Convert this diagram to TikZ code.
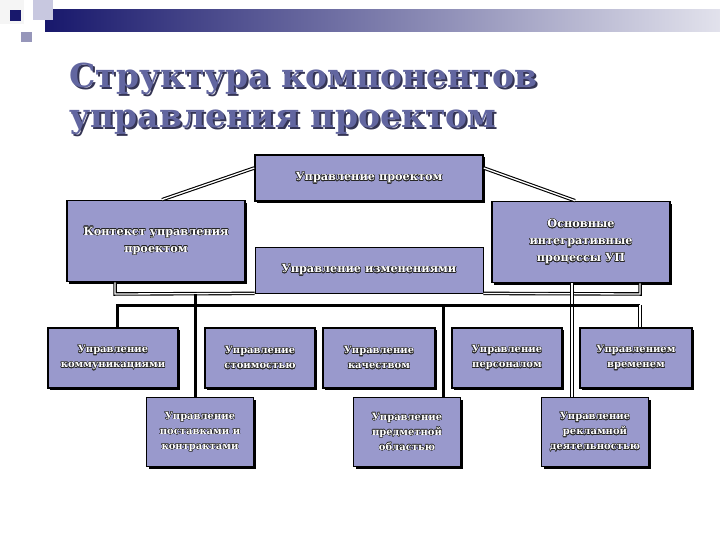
\documentclass[tikz,border=0pt]{standalone}
\usepackage{fontspec}
\setmainfont{DejaVu Serif}
\usepackage{contour}
\contourlength{0.4pt}
\usetikzlibrary{positioning, shadows}

\definecolor{boxfill}{RGB}{153,153,204}
\definecolor{navy}{RGB}{24,24,108}
\definecolor{barend}{RGB}{226,226,236}
\definecolor{titleblue}{RGB}{98,102,160}
\definecolor{titleshade}{RGB}{52,52,84}
\definecolor{sqlight}{RGB}{200,200,224}
\definecolor{sqmid}{RGB}{150,150,186}

\newcommand{\ct}[1]{\contour{black!85}{#1}}
\newcommand{\shadowline}[1]{\makebox[0pt][l]{\hspace{2pt}\raisebox{-2pt}{\color{titleshade}#1}}#1}

\begin{document}
\begin{tikzpicture}[
  x=1pt, y=-1pt,
  plate/.style={rectangle, draw=black, fill=boxfill, text=white, align=center,
                inner sep=2pt, font=\bfseries\fontsize{11.3}{17}\selectfont},
  box/.style={plate, line width=1.6pt,
              drop shadow={shadow xshift=2.2pt, shadow yshift=-2.2pt, fill=black, opacity=1}},
  wide/.style={box, minimum width=228pt, minimum height=46pt},
  big/.style={box, minimum width=178pt, minimum height=81pt},
  small/.style={box, font=\bfseries\fontsize{10}{15}\selectfont, minimum height=60pt},
  tall/.style={box, font=\bfseries\fontsize{10}{15}\selectfont,
               minimum width=107pt, minimum height=69pt},
  bus/.style={line width=3pt, draw=black},
  dbl/.style={draw=black, double=white, line width=1.1pt, double distance=1.3pt},
  heading/.style={anchor=base west, align=left, text=titleblue,
                  font=\bfseries\fontsize{33}{40}\selectfont},
]
\useasboundingbox (0,0) rectangle (720,540);
\fill[white] (0,0) rectangle (720,540);

% --- header ---
\fill[gray!8] (0,0) rectangle (24,24);
\shade[left color=navy, right color=barend] (45,10) rectangle (720,32);
\fill[sqlight] (33,0) rectangle (53,20);
\fill[sqmid] (21,32) rectangle (32,42);
\fill[navy] (10,10) rectangle (21,21);

\node[heading] (title) at (66,128) {\shadowline{Структура компонентов}\\\shadowline{управления проектом}};

% --- components ---
\node[wide]                (proj)   at (369,178) {\ct{Управление проектом}};
\node[big]                 (ctx)    at (156,241) {\ct{Контекст управления}\\\ct{проектом}};
\node[plate, line width=0.8pt, minimum width=228pt, minimum height=46pt]
                           (chg)    at (369,270) {\ct{Управление изменениями}};
\node[big]                 (core)   at (581,242) {\ct{Основные}\\\ct{интегративные}\\\ct{процессы УП}};

\node[small, minimum width=130pt] (comm)  at (113,358) {\ct{Управление}\\\ct{коммуникациями}};
\node[small, minimum width=110pt] (cost)  at (260,358) {\ct{Управление}\\\ct{стоимостью}};
\node[small, minimum width=112pt] (qual)  at (379,358) {\ct{Управление}\\\ct{качеством}};
\node[small, minimum width=110pt] (staff) at (507,358) {\ct{Управление}\\\ct{персоналом}};
\node[small, minimum width=112pt] (time)  at (636,358) {\ct{Управлением}\\\ct{временем}};

\node[tall] (supply) at (200,432) {\ct{Управление}\\\ct{поставками и}\\\ct{контрактами}};
\node[tall] (scope)  at (407,432) {\ct{Управление}\\\ct{предметной}\\\ct{областью}};
\node[tall] (adv)    at (595,432) {\ct{Управление}\\\ct{рекламной}\\\ct{деятельностью}};

% --- junctions ---
\coordinate (lj)   at (115,294);
\coordinate (sj)   at (195,294);
\coordinate (busl) at (117,305);
\coordinate (mj)   at (443,305);
\coordinate (busr) at (640,305);
\coordinate (rj)   at (640,294);
\coordinate (aj)   at (572,294);

% --- connections ---
\draw[dbl] ([yshift=10pt]proj.west) -- ([xshift=6pt]ctx.north);
\draw[dbl] ([yshift=10pt]proj.east) -- ([xshift=-6pt]core.north);

\draw[dbl] (ctx.south -| lj) -- (lj) -- (chg.south west);
\draw[dbl] (chg.south east) -- (rj) -- (rj |- core.south);
\draw[dbl] (aj |- core.south) -- (aj |- adv.north);

\draw[bus] (comm.north -| busl) -- (busl) -- (busr);
\draw[bus] (sj) -- (sj |- supply.north);
\draw[bus] (mj) -- (mj |- scope.north);
\draw[dbl] (busr) -- (busr |- time.north);
\end{tikzpicture}
\end{document}
